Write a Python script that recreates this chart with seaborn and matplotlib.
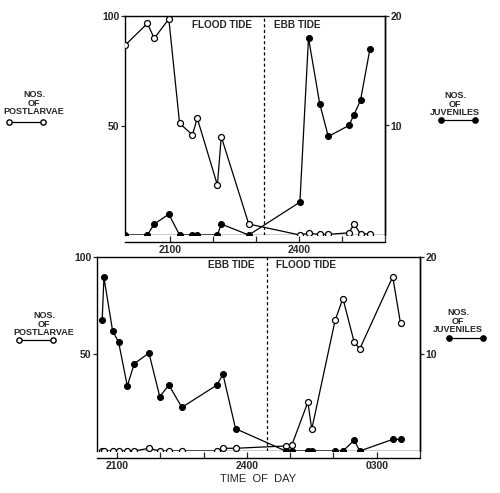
import numpy as np
import pandas as pd
import matplotlib
matplotlib.use("Agg")
import matplotlib.pyplot as plt
from matplotlib.lines import Line2D
import seaborn as sns

# time of day in hours (24 = midnight, 27 = 0300)
top_time = [19.96, 20.47, 20.63, 20.97, 21.22, 21.52, 21.63, 22.10, 22.19,
            22.83, 24.02, 24.22, 24.48, 24.68, 25.16, 25.28, 25.43, 25.65]
top_postlarvae = [86.8, 96.6, 89.8, 98.6, 51.0, 45.7, 53.4, 22.8, 44.9,
                  5.0, 0.0, 0.8, 0.3, 0.3, 1.0, 5.0, 0.5, 0.5]
top_juveniles = [0.0, 0.0, 1.0, 1.9, 0.0, 0.0, 0.0, 0.0, 1.0,
                 0.0, 3.0, 18.0, 12.0, 9.0, 10.0, 11.0, 12.3, 17.0]

bot_time = [20.66, 20.70, 20.90, 21.04, 21.24, 21.40, 21.74, 21.99, 22.20,
            22.50, 23.31, 23.45, 23.74, 24.90, 25.04, 25.41, 25.50, 26.04,
            26.22, 26.48, 26.61, 27.37, 27.55]
bot_postlarvae = [0, 0, 0, 0, 0, 0, 1.4, 0, 0, 0, 0, 1.4, 1.4, 2.6, 3.1,
                  25.2, 11.2, 67.4, 78.6, 56.1, 52.7, 89.8, 65.8]
bot_juveniles = [13.5, 17.9, 12.4, 11.2, 6.7, 9.0, 10.1, 5.6, 6.8, 4.5, 6.8,
                 7.9, 2.3, 0, 0, 0, 0, 0, 0, 1.1, 0, 1.2, 1.2]

top_ticks = [21, 22, 23, 24, 25, 26]
top_ticklabels = ["2100", "", "", "2400", "", ""]
bot_ticks = [21, 22, 23, 24, 25, 26, 27, 28]
bot_ticklabels = ["2100", "", "", "2400", "", "", "0300", ""]

sns.set_style("white")
plt.rcParams['font.family'] = ['Liberation Sans', 'DejaVu Sans']
plt.rcParams['font.weight'] = 'bold'

fig = plt.figure(figsize=(5, 4.93), dpi=100)

LW = 0.9
MS = 4.3
W, H = 500, 493


def frac(x0, y0, x1, y1):
    return [x0 / W, 1 - y1 / H, (x1 - x0) / W, (y1 - y0) / H]


def draw_panel(rect, time, larvae, juv, xlim, turn, ticks, ticklabels,
               left_tide, right_tide):
    ax = fig.add_axes(rect)
    ax2 = ax.twinx()
    df = pd.DataFrame({"time": time, "larvae": larvae, "juv": juv})

    sns.lineplot(data=df, x="time", y="larvae", ax=ax, color="k", lw=LW,
                 marker="o", markersize=MS, markerfacecolor="white",
                 markeredgecolor="k", markeredgewidth=0.9, estimator=None,
                 zorder=3)
    sns.lineplot(data=df, x="time", y="juv", ax=ax2, color="k", lw=LW,
                 marker="o", markersize=MS, markerfacecolor="k",
                 markeredgecolor="k", estimator=None, zorder=3)

    ax.set_xlim(*xlim)
    ax.set_ylim(0, 100)
    ax2.set_ylim(0, 20)
    ax.set_xlabel("")
    ax.set_ylabel("")
    ax2.set_ylabel("")

    # box bottom + separate time axis just below it
    ax.axhline(0, color="k", lw=1.0, zorder=2)
    ax.spines["bottom"].set_position(("outward", 5))
    ax2.spines["bottom"].set_visible(False)
    for sp in ax.spines.values():
        sp.set_color("k")
        sp.set_linewidth(1.0)
    ax2.spines["right"].set_color("k")
    ax2.spines["right"].set_linewidth(1.0)
    ax2.spines["left"].set_visible(False)
    ax2.spines["top"].set_visible(False)

    ax.set_xticks(ticks)
    ax.set_xticklabels(ticklabels)
    ax.set_yticks([50, 100])
    ax.set_yticklabels(["50", "100"])
    ax2.set_yticks([10, 20])
    ax2.set_yticklabels(["10", "20"])
    ax.tick_params(axis="x", direction="in", length=4, width=0.9,
                   labelsize=7.5, pad=2, bottom=True)
    ax.tick_params(axis="y", direction="out", length=3, width=0.9,
                   labelsize=7.5, pad=1, left=True)
    ax2.tick_params(axis="y", direction="out", length=3, width=0.9,
                    labelsize=7.5, pad=1, right=True)

    ax.axvline(turn, color="k", lw=0.9, ls=(0, (2.5, 2)), zorder=1)
    ax.text(turn - 0.28, 0.96, left_tide, transform=ax.get_xaxis_transform(),
            ha="right", va="center", fontsize=7.2)
    ax.text(turn + 0.22, 0.96, right_tide, transform=ax.get_xaxis_transform(),
            ha="left", va="center", fontsize=7.2)
    ax.grid(False)
    ax2.grid(False)
    return ax, ax2


ax_top, ax_top2 = draw_panel(frac(125, 16, 385, 235), top_time,
                             top_postlarvae, top_juveniles, (19.95, 26.0),
                             23.19, top_ticks, top_ticklabels,
                             "FLOOD TIDE", "EBB TIDE")
ax_bot, ax_bot2 = draw_panel(frac(97, 257, 420, 451), bot_time,
                             bot_postlarvae, bot_juveniles, (20.54, 28.0),
                             24.46, bot_ticks, bot_ticklabels,
                             "EBB TIDE", "FLOOD TIDE")
ax_bot.set_xlabel("TIME  OF  DAY", fontsize=8, labelpad=2)


def add_key(ax, tx, ty, lx, ly, title, filled):
    # title text block (bottom at ty) and a key line centred at (lx, ly)
    fig.text(tx / W, 1 - ty / H, title, ha="center", va="bottom",
             multialignment="center", fontsize=6.5, linespacing=0.9)
    h = Line2D([], [], color="k", lw=LW, marker="o", markersize=MS - 0.5,
               markerfacecolor="k" if filled else "white",
               markeredgecolor="k")
    leg = ax.legend(handles=[h], labels=[""], loc="center",
                    bbox_to_anchor=(lx / W, 1 - ly / H),
                    bbox_transform=fig.transFigure, frameon=False,
                    numpoints=2, handlelength=3.0, handletextpad=0,
                    borderpad=0, borderaxespad=0)
    return leg


add_key(ax_top, 34, 116, 26, 123, "NOS.\nOF\nPOSTLARVAE", False)
add_key(ax_top2, 455, 117, 458, 121, "NOS.\nOF\nJUVENILES", True)
add_key(ax_bot, 44, 337, 36, 341, "NOS.\nOF\nPOSTLARVAE", False)
add_key(ax_bot2, 458, 334, 466, 339, "NOS.\nOF\nJUVENILES", True)

fig.savefig("out.png", dpi=100)
